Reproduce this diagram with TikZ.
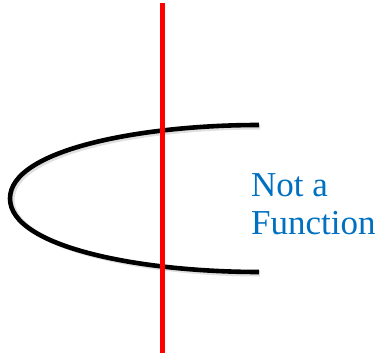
\documentclass[tikz,border=0pt]{standalone}
\usepackage{fontspec}
\setmainfont{Liberation Serif}
\definecolor{lineRed}{RGB}{255,0,0}
\definecolor{noteBlue}{RGB}{0,112,192}
\tikzset{vlt/.style={
  x=1pt, y=-1pt,
  vline/.style={line width=5pt, lineRed},
  curve/.style={line width=4.6pt, black},
  shade/.style={line width=5pt, black, opacity=0.12},
  label/.style={anchor=base west, inner sep=0pt, text=noteBlue, font=\fontsize{35}{38}\selectfont},
}}
\begin{document}
\begin{tikzpicture}[vlt]
\useasboundingbox (0,0) rectangle (378,353);

% sideways parabola (with a soft shadow)
\draw[shade] (260,127) .. controls (142,127) and (12,152) .. (12,200)
  .. controls (12,247) and (142,274) .. (260,274);
\draw[curve] (259,125) .. controls (140,125) and (10,150) .. (10,198.5)
  .. controls (10,247) and (140,272) .. (259,272);

% vertical line test
\coordinate (top) at (162.5,3);
\coordinate (bot) at (162.5,353);
\draw[vline] (top) -- (bot);

\node[label] (nota) at (251,196.5) {Not a};
\node[label] (func) at (251,234.5) {Function};

\end{tikzpicture}
\end{document}
